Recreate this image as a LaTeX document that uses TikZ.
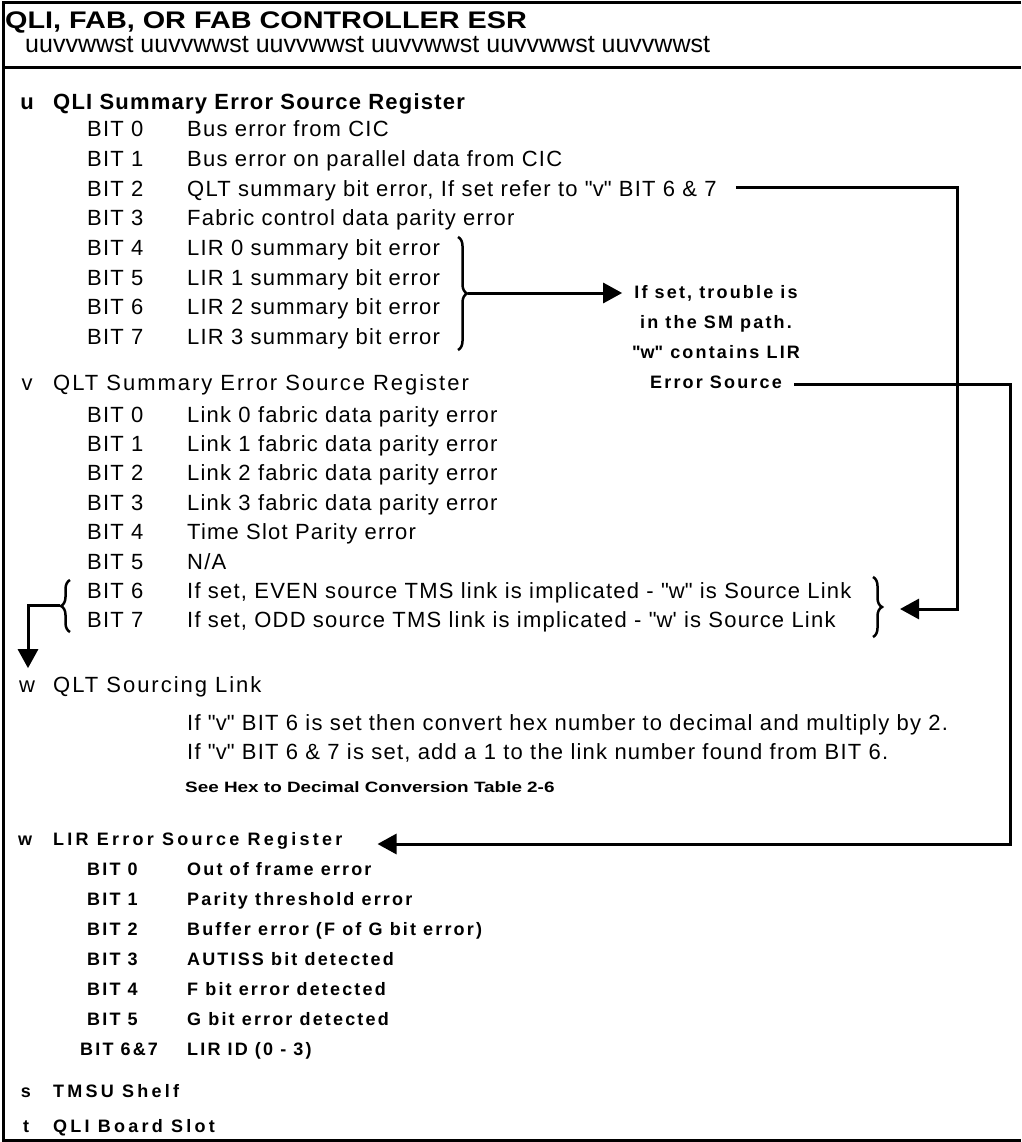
\documentclass[tikz,border=0pt]{standalone}
\usepackage{fontspec}
\setmainfont{Liberation Sans}
\newfontfamily\bodyfont[LetterSpace=5.5]{Liberation Sans}
\newfontfamily\widefont[LetterSpace=9]{Liberation Sans}
\newfontfamily\titlefont[FakeStretch=1.2]{Liberation Sans}
\newfontfamily\tablefont[FakeStretch=1.26]{Liberation Sans}
\newfontfamily\lirfont[LetterSpace=12]{Liberation Sans}
\newfontfamily\lirheadfont[LetterSpace=18]{Liberation Sans}
\newcommand\quoted[1]{\textquotedbl#1\textquotedbl}
\usetikzlibrary{arrows.meta,positioning,calc,decorations.pathreplacing}

\tikzset{
  body/.style={anchor=base west, inner sep=0pt, font=\bodyfont\fontsize{22}{26}\selectfont},
  head/.style={body, font=\bodyfont\bfseries\fontsize{22}{26}\selectfont},
  widehead/.style={body, font=\widefont\fontsize{22}{26}\selectfont},
  regletter/.style={anchor=base, inner sep=0pt, font=\bodyfont\fontsize{22}{26}\selectfont},
  lir/.style={anchor=base west, inner sep=0pt, font=\lirfont\bfseries\fontsize{18}{20}\selectfont},
  lirhead/.style={anchor=base west, inner sep=0pt, font=\lirheadfont\bfseries\fontsize{18}{20}\selectfont},
  note/.style={anchor=base, inner sep=0pt, font=\lirfont\bfseries\fontsize{18}{20}\selectfont},
  frame/.style={line width=3pt},
  conn/.style={line width=3pt},
  tip/.style={-{Triangle[length=19pt,width=20pt]}},
  curly/.style={decorate, decoration={brace, amplitude=9pt}, line width=2.5pt},
}

\begin{document}
\begin{tikzpicture}[x=1pt,y=-1pt]
  \useasboundingbox (0,0) rectangle (1021,1142);

  % frame and header
  \draw[frame] (1021,3) -- (3,3) -- (3,1140) -- (1021,1140);
  \draw[frame] (3,68) -- (1021,68);
  \node[anchor=base west, inner sep=0pt, font=\titlefont\bfseries\fontsize{24}{28}\selectfont] (title) at (5,29) {QLI, FAB, OR FAB CONTROLLER ESR};
  \node[anchor=base west, inner sep=0pt, font=\fontsize{25}{28}\selectfont] (pattern) at (25,53) {uuvvwwst uuvvwwst uuvvwwst uuvvwwst uuvvwwst uuvvwwst};

  % u register
  \node[regletter] (uL) at (27,110) {\bfseries u};
  \node[head] (uH) at (53,110) {QLI Summary Error Source Register};
  \foreach \i in {0,...,7}
    \node[body] (ub\i) at (87,{136.7+29.7*\i}) {BIT \i};
  \node[body] (ud0) at (187,136.7) {Bus error from CIC};
  \node[body] (ud1) at (187,166.4) {Bus error on parallel data from CIC};
  \node[body] (ud2) at (187,196.1) {QLT summary bit error, If set refer to \quoted{v} BIT 6 \& 7};
  \node[body] (ud3) at (187,225.8) {Fabric control data parity error};
  \node[body] (ud4) at (187,255.5) {LIR 0 summary bit error};
  \node[body] (ud5) at (187,285.2) {LIR 1 summary bit error};
  \node[body] (ud6) at (187,314.9) {LIR 2 summary bit error};
  \node[body] (ud7) at (187,344.6) {LIR 3 summary bit error};

  % note on the SM path
  \node[note] (sm1) at (716,298) {If set, trouble is};
  \node[note] (sm2) at (716,328) {in the SM path.};
  \node[note] (sm3) at (716,358) {\quoted{w} contains LIR};
  \node[note] (sm4) at (716,388) {Error Source};

  % v register
  \node[regletter] (vL) at (27,390) {v};
  \node[widehead] (vH) at (53,390) {QLT Summary Error Source Register};
  \foreach \i in {0,...,7}
    \node[body] (vb\i) at (87,{422+29.4*\i}) {BIT \i};
  \node[body] (vd0) at (187,422) {Link 0 fabric data parity error};
  \node[body] (vd1) at (187,451.4) {Link 1 fabric data parity error};
  \node[body] (vd2) at (187,480.8) {Link 2 fabric data parity error};
  \node[body] (vd3) at (187,510.2) {Link 3 fabric data parity error};
  \node[body] (vd4) at (187,539.6) {Time Slot Parity error};
  \node[body] (vd5) at (187,569) {N/A};
  \node[body] (vd6) at (187,598.4) {If set, EVEN source TMS link is implicated - \quoted{w} is Source Link};
  \node[body] (vd7) at (187,627.8) {If set, ODD source TMS link is implicated - \textquotedbl w\textquotesingle{} is Source Link};

  % w sourcing link
  \node[regletter] (wL) at (27,692) {w};
  \node[widehead] (wH) at (53,692) {QLT Sourcing Link};
  \node[body] (w1) at (187,730) {If \quoted{v} BIT 6 is set then convert hex number to decimal and multiply by 2.};
  \node[body] (w2) at (187,759) {If \quoted{v} BIT 6 \& 7 is set, add a 1 to the link number found from BIT 6.};
  \node[anchor=base west, inner sep=0pt, font=\tablefont\bfseries\fontsize{15}{18}\selectfont] (w3) at (185,792) {See Hex to Decimal Conversion Table 2-6};

  % w LIR register
  \node[note] (lL) at (25,845) {w};
  \node[lirhead] (lH) at (53,845) {LIR Error Source Register};
  \foreach \i in {0,...,5}
    \node[lir] (lb\i) at (87,{875+30*\i}) {BIT \i};
  \node[lir] (lb6) at (80,1055) {BIT 6\&7};
  \node[lir] (ld0) at (187,875) {Out of frame error};
  \node[lir] (ld1) at (187,905) {Parity threshold error};
  \node[lir] (ld2) at (187,935) {Buffer error (F of G bit error)};
  \node[lir] (ld3) at (187,965) {AUTISS bit detected};
  \node[lir] (ld4) at (187,995) {F bit error detected};
  \node[lir] (ld5) at (187,1025) {G bit error detected};
  \node[lir] (ld6) at (187,1055) {LIR ID (0 - 3)};
  \node[note] (sL) at (26,1097) {s};
  \node[lirhead] (sH) at (53,1097) {TMSU Shelf};
  \node[note] (tL) at (26,1132) {t};
  \node[lirhead] (tH) at (53,1132) {QLI Board Slot};

  % braces
  \draw[curly] (458,237) -- (458,350);
  \coordinate (ubr) at (468,293);
  \draw[curly] (873,577) -- (873,637);
  \coordinate (vbr) at (884,609);
  \draw[curly] (70,632) -- (70,580);
  \coordinate (vbl) at (60,605);

  % connectors
  \coordinate (rA) at (957,609);
  \coordinate (rB) at (1010,844);
  \draw[conn,tip,shorten >=12pt] (ubr) -- (ubr -| sm1.west);
  \draw[conn,tip] ([xshift=19pt,yshift=3pt]ud2.east) -| (rA) -- ([xshift=16pt]vbr);
  \draw[conn,tip] ([xshift=12pt,yshift=-3pt]sm4.east) -| (rB) -- ([xshift=35pt]rB -| lH.east);
  \draw[conn,tip] (vbl) -| ([xshift=1pt,yshift=12pt]wL.north);
\end{tikzpicture}
\end{document}
